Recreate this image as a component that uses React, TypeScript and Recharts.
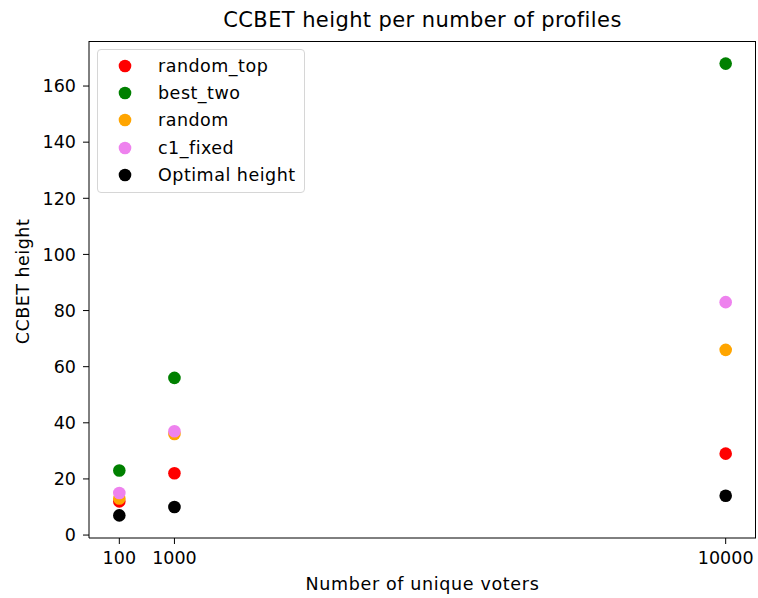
import React from 'react'
import { ScatterChart, Scatter, XAxis, YAxis } from 'recharts'

const voters = [100, 1000, 10000]
const randomTop = [12, 22, 29]
const bestTwo = [23, 56, 168]
const randomVals = [13, 36, 66]
const c1Fixed = [15, 37, 83]
const optimal = [7, 10, 14]
const yTicks = [0, 20, 40, 60, 80, 100, 120, 140, 160]

const series = [
  { name: 'random_top', color: '#ff0000', values: randomTop },
  { name: 'best_two', color: '#008000', values: bestTwo },
  { name: 'random', color: '#ffa500', values: randomVals },
  { name: 'c1_fixed', color: '#ee82ee', values: c1Fixed },
  { name: 'Optimal height', color: '#000000', values: optimal },
]

const font = 'DejaVu Sans, sans-serif'
const fs = 17.5

const Dot = (props: any) => {
  const { cx, cy, fill } = props
  return <circle cx={cx} cy={cy} r={6.3} fill={fill} />
}

const YLabel = (props: any) => {
  const { viewBox } = props
  const cx = 23
  const cy = viewBox.y + viewBox.height / 2 - 8
  return (
    <text
      x={cx}
      y={cy}
      transform={`rotate(-90, ${cx}, ${cy})`}
      textAnchor="middle"
      dominantBaseline="central"
      fill="#000"
      fontFamily={font}
      fontSize={fs}
      letterSpacing={0.5}
    >
      CCBET height
    </text>
  )
}

export default function App() {
  return (
    <div style={{ position: 'absolute', left: 0, top: 0, width: 758, height: 598, background: '#fff' }}>
      <div
        style={{
          position: 'absolute',
          top: 7,
          left: 89,
          width: 667,
          textAlign: 'center',
          fontFamily: font,
          fontSize: 21,
          lineHeight: '26px',
          letterSpacing: 0.4,
        }}
      >
        CCBET height per number of profiles
      </div>
      <ScatterChart width={758} height={598} margin={{ top: 41, right: 2, bottom: 0, left: 29 }}>
        <XAxis
          type="number"
          dataKey="x"
          domain={[-395, 10495]}
          ticks={voters}
          allowDataOverflow
          tickSize={6}
          tickMargin={8}
          height={60}
          stroke="#000"
          tick={{ fill: '#000', fontFamily: font, fontSize: fs }}
          label={{ value: 'Number of unique voters', position: 'insideBottom', offset: 8, fill: '#000', fontFamily: font, fontSize: fs, letterSpacing: 0.65 }}
        />
        <YAxis
          type="number"
          dataKey="y"
          domain={[-1.05, 176.05]}
          ticks={yTicks}
          allowDataOverflow
          tickSize={6}
          tickMargin={7}
          width={60}
          stroke="#000"
          tick={{ fill: '#000', fontFamily: font, fontSize: fs }}
          label={<YLabel />}
        />
        {series.map((s) => (
          <Scatter
            key={s.name}
            name={s.name}
            data={voters.map((x, i) => ({ x, y: s.values[i] }))}
            fill={s.color}
            shape={Dot}
            isAnimationActive={false}
          />
        ))}
      </ScatterChart>
      <div
        style={{
          position: 'absolute',
          left: 89,
          top: 41,
          width: 667,
          height: 497,
          boxSizing: 'border-box',
          borderTop: '1px solid #000',
          borderRight: '1px solid #000',
          pointerEvents: 'none',
        }}
      />
      <div
        style={{
          position: 'absolute',
          left: 97,
          top: 49,
          boxSizing: 'border-box',
          width: 208,
          height: 144,
          border: '1px solid #d6d6d6',
          borderRadius: 4,
          background: 'rgba(255,255,255,0.8)',
          padding: '2px 0 0 20px',
          fontFamily: font,
          fontSize: fs,
          letterSpacing: 0.5,
        }}
      >
        {series.map((s) => (
          <div key={s.name} style={{ display: 'flex', alignItems: 'center', height: 27.3 }}>
            <svg width={14} height={14} style={{ marginRight: 26 }}>
              <circle cx={7} cy={7} r={6.3} fill={s.color} />
            </svg>
            <span>{s.name}</span>
          </div>
        ))}
      </div>
    </div>
  )
}
